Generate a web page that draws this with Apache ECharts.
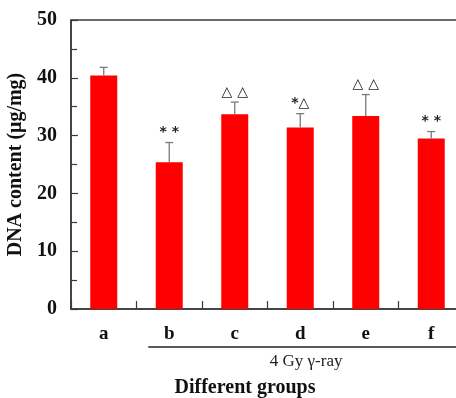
<!DOCTYPE html>
<html><head><meta charset="utf-8">
<script src="https://cdn.jsdelivr.net/npm/echarts@6/dist/echarts.min.js"></script>
<style>html,body{margin:0;padding:0;background:#fff}#c{width:456px;height:398px}</style>
</head><body><div id="c"></div>
<script>
const categories = ['a', 'b', 'c', 'd', 'e', 'f'];
const means = [40.4, 25.4, 33.7, 31.4, 33.4, 29.5];
const errors = [1.4, 3.4, 2.1, 2.4, 3.7, 1.2];
const marks = ['', '* *', '△ △', '*△', '△ △', '* *'];
const yMin = 0, yMax = 50, yStep = 10;
const groupLabel = '4 Gy γ-ray';
const groupFrom = 'b', groupTo = 'f';
const xName = 'Different groups';
const yName = 'DNA content (μg/mg)';

const SERIF = '"Liberation Serif","Times New Roman",serif';
const AXIS = '#3a3a3a';
const chart = echarts.init(document.getElementById('c'), null, {renderer: 'canvas'});

const errData = categories.map((c, i) => [i, means[i], errors[i]]);

chart.setOption({
  animation: false,
  backgroundColor: '#fff',
  grid: {left: 71, top: 20, width: 393, height: 289, containLabel: false, outerBoundsMode: 'none',
    show: true, borderColor: AXIS, borderWidth: 1.5},
  xAxis: {
    type: 'category', data: categories,
    axisLine: {lineStyle: {color: AXIS, width: 1.5}},
    axisTick: {show: true, inside: true, length: 8, alignWithLabel: false, interval: 0, lineStyle: {color: AXIS, width: 1.2}},
    axisLabel: {margin: 16, fontFamily: SERIF, fontWeight: 'bold', fontSize: 19, color: '#111'},
  },
  yAxis: {
    type: 'value', min: yMin, max: yMax, interval: yStep,
    name: yName, nameLocation: 'middle', nameGap: 40,
    nameTextStyle: {fontFamily: SERIF, fontWeight: 'bold', fontSize: 20, color: '#111'},
    axisLine: {show: true, lineStyle: {color: AXIS, width: 1.5}},
    axisTick: {show: true, inside: true, length: 7, lineStyle: {color: AXIS, width: 1.2}},
    minorTick: {show: true, splitNumber: 2, length: 6, lineStyle: {color: AXIS, width: 1.2}},
    splitLine: {show: false},
    axisLabel: {margin: 14, fontFamily: SERIF, fontWeight: 'bold', fontSize: 20, color: '#111'},
  },
  series: [
    {type: 'bar', data: means, barWidth: 27, itemStyle: {color: '#ff0000'}, z: 2},
    {
      type: 'custom', data: errData, z: 3,
      renderItem: function (params, api) {
        const x = api.value(0), m = api.value(1), e = api.value(2);
        const base = api.coord([x, m]);
        const top = api.coord([x, m + e]);
        const cap = 4;
        const st = {stroke: '#7a7a7a', lineWidth: 1.3};
        return {
          type: 'group', children: [
            {type: 'line', shape: {x1: base[0], y1: base[1], x2: top[0], y2: top[1]}, style: st},
            {type: 'line', shape: {x1: top[0] - cap, y1: top[1], x2: top[0] + cap, y2: top[1]}, style: st},
            {type: 'text', style: {text: marks[params.dataIndex], x: top[0], y: top[1] - 3,
              textAlign: 'center', textVerticalAlign: 'bottom',
              font: 'bold 14px "DejaVu Sans", sans-serif', fill: '#222'}}
          ]
        };
      }
    }
  ]
});

function drawExtras() {
  const i0 = categories.indexOf(groupFrom), i1 = categories.indexOf(groupTo);
  const p0 = chart.convertToPixel({gridIndex: 0}, [i0, 0]);
  const p1 = chart.convertToPixel({gridIndex: 0}, [i1, 0]);
  const band = p1[0] - chart.convertToPixel({gridIndex: 0}, [i1 - 1, 0])[0];
  const xs = p0[0] - band * 0.32, xe = p1[0] + band * 0.5;
  const yl = p0[1] + 38;
  const mid = (xs + xe) / 2;
  chart.setOption({
    graphic: [
      {type: 'line', shape: {x1: xs, y1: yl, x2: xe, y2: yl}, style: {stroke: '#222', lineWidth: 1.3}},
      {type: 'text', x: mid, y: yl + 15, style: {text: groupLabel, textAlign: 'center', textVerticalAlign: 'middle',
        font: '17px "Liberation Serif","Times New Roman",serif', fill: '#222'}},
      {type: 'text', x: 245, y: 388, style: {text: xName, textAlign: 'center', textVerticalAlign: 'middle',
        font: 'bold 20px "Liberation Serif","Times New Roman",serif', fill: '#111'}}
    ]
  });
}
drawExtras();
</script>
</body></html>
